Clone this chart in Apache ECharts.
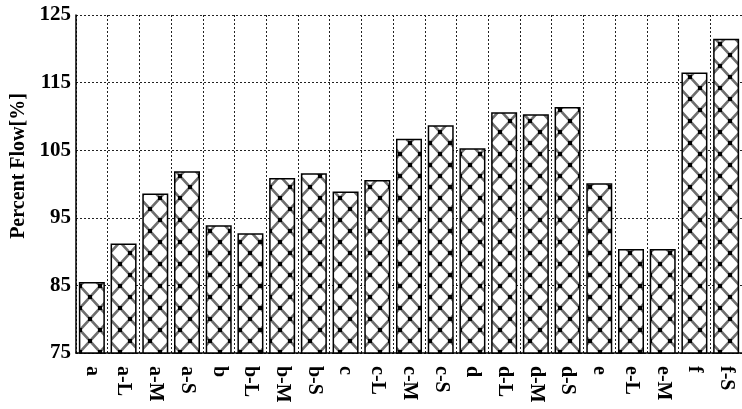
<!DOCTYPE html>
<html><head><meta charset="utf-8">
<script src="https://cdn.jsdelivr.net/npm/echarts@6/dist/echarts.min.js"></script>
<style>html,body{margin:0;padding:0;background:#fff}#c{width:742px;height:409px}</style>
</head><body><div id="c"></div>
<script>
var categories = ['a','a-L','a-M','a-S','b','b-L','b-M','b-S','c','c-L','c-M','c-S','d','d-L','d-M','d-S','e','e-L','e-M','f','f-S'];
var percentFlow = [85.5,91.2,98.6,101.9,93.9,92.7,100.9,101.6,98.9,100.6,106.7,108.7,105.3,110.6,110.3,111.4,100.1,90.4,90.4,116.5,121.5];
var yTicks = [75,85,95,105,115,125];

function makePattern(){
  var w = 20, h = 22;
  var cv = document.createElement('canvas');
  cv.width = w; cv.height = h;
  var g = cv.getContext('2d');
  g.fillStyle = '#fff'; g.fillRect(0,0,w,h);
  g.strokeStyle = '#6e6e6e'; g.lineWidth = 2.6;
  g.beginPath();
  for (var o=-w;o<=w;o+=w){
    g.moveTo(o,0); g.lineTo(o+w,h);
    g.moveTo(o+w,0); g.lineTo(o,h);
  }
  g.stroke();
  g.fillStyle = '#000';
  var pts = [[0,0],[w,0],[0,h],[w,h],[w/2,h/2]];
  pts.forEach(function(p){ g.fillRect(p[0]-2,p[1]-2,4,4); });
  return cv;
}
var pat = makePattern();
var font = '"Liberation Serif","Times New Roman",serif';
var chart = echarts.init(document.getElementById('c'));
chart.setOption({
  animation:false,
  backgroundColor:'#fff',
  grid:{left:76, right:-5, top:15, bottom:56},
  xAxis:{
    type:'category', data:categories, boundaryGap:true,
    axisLine:{lineStyle:{color:'#000', width:1.5}},
    axisTick:{show:false},
    splitLine:{show:true, lineStyle:{color:'#222', type:[2,2], width:1}},
    axisLabel:{rotate:-90, interval:0, margin:13, color:'#000', fontFamily:font, fontWeight:'bold', fontSize:20}
  },
  yAxis:{
    type:'value', min:75, max:125, interval:10,
    name:'Percent Flow[%]', nameLocation:'middle', nameGap:46,
    nameTextStyle:{color:'#000', fontFamily:font, fontWeight:'bold', fontSize:20, padding:[0,0,0,36]},
    axisLine:{show:true, lineStyle:{color:'#000', width:1.5}},
    axisTick:{show:false},
    splitLine:{show:true, lineStyle:{color:'#222', type:[2,2], width:1}},
    axisLabel:{margin:5, color:'#000', fontFamily:font, fontWeight:'bold', fontSize:21,
      formatter:function(v){ return yTicks.indexOf(v)>=0 ? String(v) : ''; }}
  },
  series:[{
    type:'bar', data:percentFlow, barWidth:'82%',
    itemStyle:{color:{image:pat, repeat:'repeat'}, borderColor:'#000', borderWidth:1.5}
  }]
});
</script></body></html>
